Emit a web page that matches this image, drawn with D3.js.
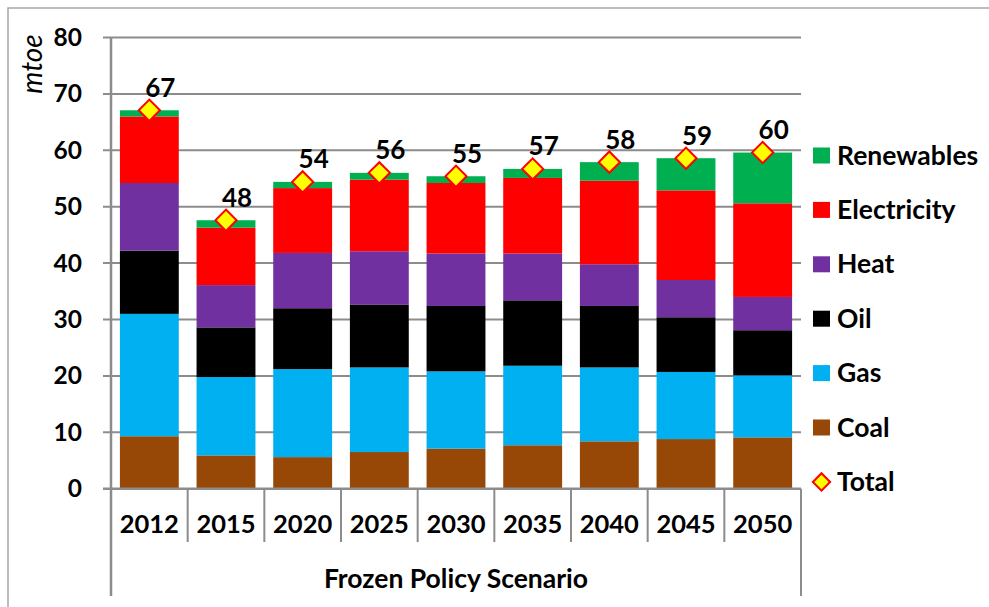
<!DOCTYPE html>
<html>
<head>
<meta charset="utf-8">
<script src="https://cdn.jsdelivr.net/npm/d3@7/dist/d3.min.js"></script>
<style>
  html, body { margin: 0; padding: 0; background: #fff; }
  svg { display: block; }
  text { font-family: Lato, "Liberation Sans", Arial, sans-serif; font-weight: bold; fill: #000; }
</style>
</head>
<body>
<svg id="chart" width="989" height="607"></svg>
<script>
// ---- Data ----
const years = ["2012", "2015", "2020", "2025", "2030", "2035", "2040", "2045", "2050"];
const seriesNames = ["Coal", "Gas", "Oil", "Heat", "Electricity", "Renewables"];
const coal        = [9.3, 5.9, 5.6, 6.5, 7.1, 7.7, 8.4, 8.8, 9.1];
const gas         = [21.7, 13.9, 15.6, 15.0, 13.7, 14.1, 13.1, 11.9, 11.0];
const oil         = [11.2, 8.8, 10.8, 11.1, 11.6, 11.6, 10.9, 9.7, 8.0];
const heat        = [12.0, 7.5, 9.8, 9.5, 9.3, 8.3, 7.4, 6.6, 5.9];
const electricity = [11.8, 10.2, 11.5, 12.7, 12.5, 13.4, 14.8, 15.9, 16.6];
const renewables  = [1.1, 1.3, 1.1, 1.2, 1.2, 1.6, 3.3, 5.7, 9.0];
const totals      = [67.1, 47.6, 54.4, 56.0, 55.4, 56.7, 57.9, 58.6, 59.6];
const yTicks = [0, 10, 20, 30, 40, 50, 60, 70, 80];
const groupLabel = "Frozen Policy Scenario";
const yTitle = "mtoe";

const colors = {
  Coal: "#974706", Gas: "#00B0F0", Oil: "#000000",
  Heat: "#7030A0", Electricity: "#FF0000", Renewables: "#00B050"
};
const valuesBySeries = { Coal: coal, Gas: gas, Oil: oil, Heat: heat, Electricity: electricity, Renewables: renewables };

const rows = years.map((yr, i) => {
  const r = { year: yr, total: totals[i] };
  seriesNames.forEach(s => r[s] = valuesBySeries[s][i]);
  return r;
});

// ---- Layout ----
const svg = d3.select("#chart");
const plotL = 111, plotR = 801, plotT = 37.5, plotB = 488.7;
const gridColor = "#8c8c8c";

// outer frame
svg.append("rect").attr("x", 8).attr("y", 8).attr("width", 1100).attr("height", 700)
  .attr("fill", "none").attr("stroke", "#a6a6a6").attr("stroke-width", 1.5);

const x = d3.scaleBand().domain(years).range([plotL, plotR]).paddingInner(0.232).paddingOuter(0.116);
const xb = d3.scaleBand().domain(years).range([plotL, plotR]);
const y = d3.scaleLinear().domain([0, 80]).range([plotB, plotT]);

// gridlines + y tick marks
svg.append("g").selectAll("line").data(yTicks.filter(t => t > 0)).join("line")
  .attr("x1", plotL - 8).attr("x2", plotR)
  .attr("y1", d => y(d)).attr("y2", d => y(d))
  .attr("stroke", gridColor).attr("stroke-width", 2);

// y tick labels
svg.append("g").selectAll("text").data(yTicks).join("text")
  .attr("x", 82).attr("y", d => y(d) + 8.5)
  .attr("text-anchor", "end")
  .attr("font-size", 24.5)
  .text(d => d);

// y title
svg.append("text")
  .attr("transform", `translate(42,64) rotate(-90)`)
  .attr("text-anchor", "middle")
  .attr("font-size", 28)
  .style("font-weight", "normal")
  .style("font-style", "italic")
  .text(yTitle);

// stacked bars
const stack = d3.stack().keys(seriesNames);
const layers = stack(rows);
svg.append("g").selectAll("g").data(layers).join("g")
  .attr("fill", d => colors[d.key])
  .selectAll("rect").data(d => d).join("rect")
  .attr("x", d => x(d.data.year))
  .attr("width", x.bandwidth())
  .attr("y", d => y(d[1]))
  .attr("height", d => y(d[0]) - y(d[1]));

// x axis line and category separators
svg.append("line").attr("x1", plotL - 8).attr("x2", plotR).attr("y1", plotB).attr("y2", plotB)
  .attr("stroke", gridColor).attr("stroke-width", 2.5);
svg.append("line").attr("x1", plotL).attr("x2", plotL).attr("y1", plotT).attr("y2", 596)
  .attr("stroke", gridColor).attr("stroke-width", 2.5);
svg.append("line").attr("x1", plotR).attr("x2", plotR).attr("y1", plotB).attr("y2", 596)
  .attr("stroke", gridColor).attr("stroke-width", 2);
svg.append("g").selectAll("line").data(years.slice(1)).join("line")
  .attr("x1", d => xb(d)).attr("x2", d => xb(d))
  .attr("y1", plotB).attr("y2", 542)
  .attr("stroke", gridColor).attr("stroke-width", 2);

// year labels
svg.append("g").selectAll("text").data(years).join("text")
  .attr("x", d => xb(d) + xb.bandwidth() / 2)
  .attr("y", 533)
  .attr("text-anchor", "middle")
  .attr("font-size", 25.5)
  .text(d => d);

// group label
svg.append("text").attr("x", (plotL + plotR) / 2).attr("y", 588)
  .attr("text-anchor", "middle").attr("font-size", 26.5).text(groupLabel);

// total markers
const diamond = d3.symbol(d3.symbolSquare, 225);
svg.append("g").selectAll("path").data(rows).join("path")
  .attr("d", diamond)
  .attr("transform", d => `translate(${xb(d.year) + xb.bandwidth() / 2},${y(d.total)}) rotate(45)`)
  .attr("fill", "#FFFF00").attr("stroke", "#FF0000").attr("stroke-width", 2);

// total labels
svg.append("g").selectAll("text").data(rows).join("text")
  .attr("x", d => xb(d.year) + xb.bandwidth() / 2 + 11)
  .attr("y", d => y(d.total) - 13.5)
  .attr("text-anchor", "middle")
  .attr("font-size", 26)
  .text(d => Math.round(d.total));

// legend
const legendItems = seriesNames.slice().reverse().concat(["Total"]);
const lg = svg.append("g").selectAll("g").data(legendItems).join("g")
  .attr("transform", (d, i) => `translate(0,${155.5 + i * 54.4})`);
lg.filter(d => d !== "Total").append("rect")
  .attr("x", 813).attr("y", -8).attr("width", 17).attr("height", 16)
  .attr("fill", d => colors[d]);
lg.filter(d => d === "Total").append("path")
  .attr("d", d3.symbol(d3.symbolSquare, 150))
  .attr("transform", "translate(821.5,0) rotate(45)")
  .attr("fill", "#FFFF00").attr("stroke", "#FF0000").attr("stroke-width", 2);
lg.append("text").attr("x", 837).attr("y", 9).attr("font-size", 26.5).text(d => d);
</script>
</body>
</html>
